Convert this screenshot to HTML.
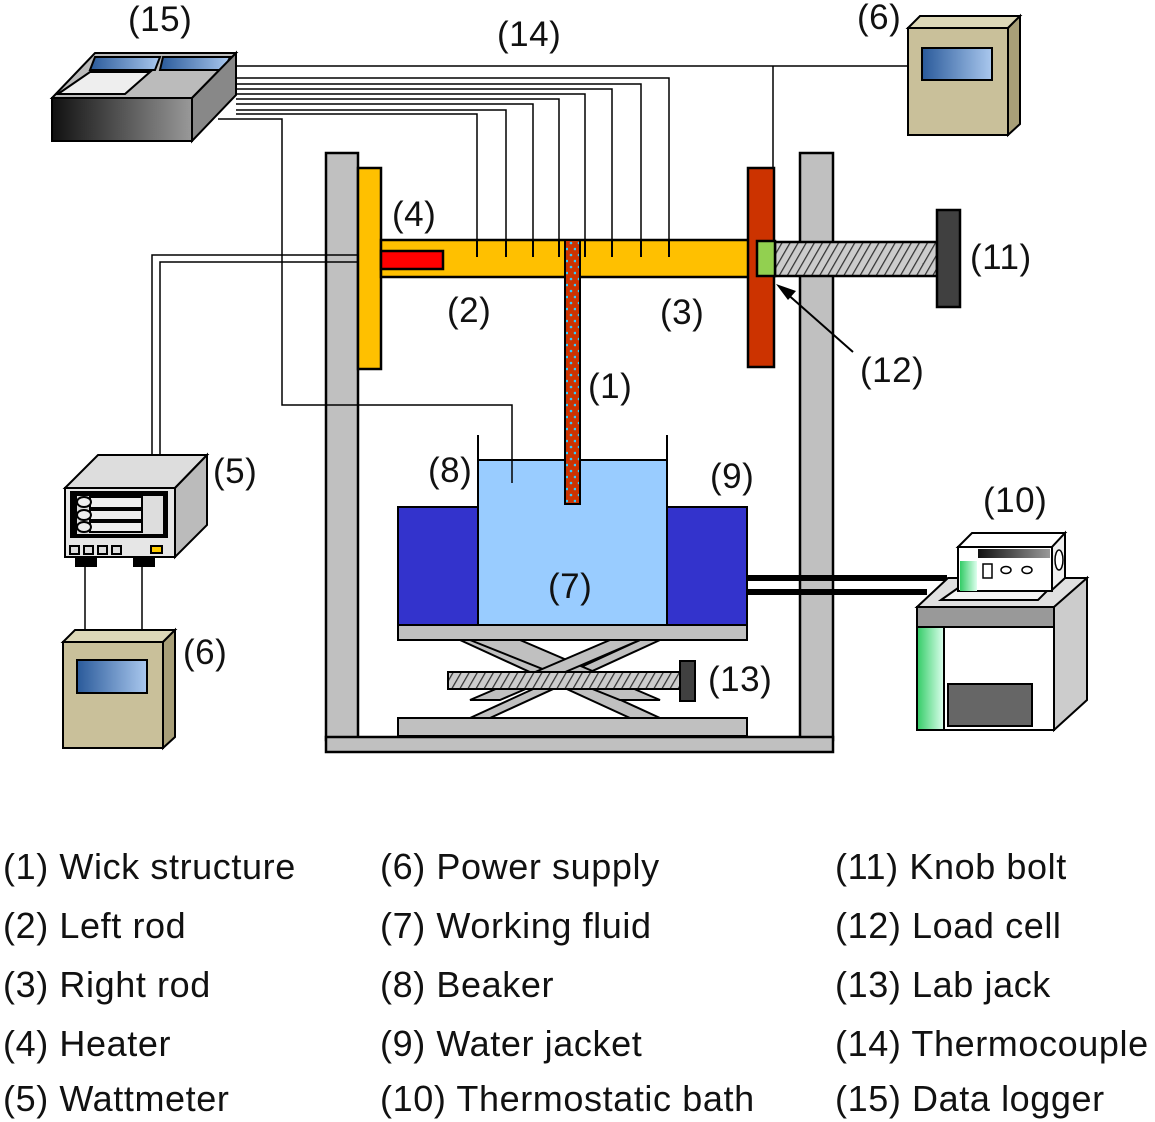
<!DOCTYPE html>
<html><head><meta charset="utf-8"><style>
body{margin:0;background:#fff}
svg{display:block}
text{font-family:"Liberation Sans",sans-serif;fill:#111}
</style></head><body>
<svg width="1155" height="1122" viewBox="0 0 1155 1122" xmlns="http://www.w3.org/2000/svg">
<defs>
<linearGradient id="dk" x1="0" x2="1"><stop offset="0" stop-color="#111"/><stop offset="1" stop-color="#999"/></linearGradient>
<linearGradient id="gr" x1="0" x2="1"><stop offset="0" stop-color="#3c6"/><stop offset="1" stop-color="#dfe"/></linearGradient>
<linearGradient id="bl" x1="0" x2="1"><stop offset="0" stop-color="#2a5a9a"/><stop offset="1" stop-color="#aac8ee"/></linearGradient>
<pattern id="hatch" width="7" height="7" patternUnits="userSpaceOnUse" patternTransform="rotate(30)"><rect width="7" height="7" fill="#ccc"/><line x1="0" y1="0" x2="0" y2="7" stroke="#333" stroke-width="2.5"/></pattern>
<pattern id="dots" width="8" height="12" patternUnits="userSpaceOnUse"><rect width="8" height="12" fill="#cc3300"/><circle cx="3" cy="3" r="1.3" fill="#3cf"/><circle cx="7" cy="9" r="1.3" fill="#3cf"/></pattern>
</defs>
<g stroke="#000" stroke-width="2.5" fill="#c0c0c0">
<rect x="326" y="153" width="32" height="587"/>
<rect x="800" y="153" width="33" height="587"/>
<rect x="326" y="737" width="507" height="15"/>
</g>
<g fill="none" stroke="#000" stroke-width="1.5">
<polyline points="236,66 908,66"/>
<polyline points="773,66 773,168"/>
<polyline points="236,78 669,78 669,257"/>
<polyline points="236,84 641,84 641,257"/>
<polyline points="236,89 612,89 612,257"/>
<polyline points="236,94 585,94 585,257"/>
<polyline points="236,99 559,99 559,257"/>
<polyline points="236,104 533,104 533,257"/>
<polyline points="236,110 506,110 506,257"/>
<polyline points="236,114 477,114 477,257"/>
<polyline points="218,119 282,119 282,405 512,405 512,483"/>
<polyline points="385,255 152,255 152,455"/>
<polyline points="385,262 160,262 160,455"/>
<line x1="85" y1="565" x2="85" y2="630"/>
<line x1="142" y1="565" x2="142" y2="630"/>
</g>
<g stroke="#000" stroke-width="2.5">
<rect x="358" y="168" width="23" height="201" fill="#ffc000"/>
<rect x="381" y="240" width="369" height="37" fill="#ffc000"/>
<rect x="381" y="251" width="62" height="18" fill="#f00"/>
<rect x="748" y="168" width="26" height="199" fill="#cc3300"/>
<rect x="775" y="242" width="162" height="34" fill="url(#hatch)"/>
<rect x="757" y="241" width="18" height="35" fill="#92d050"/>
<rect x="937" y="210" width="23" height="97" fill="#404040"/>
</g>
<g stroke="#000" stroke-width="2">
<line x1="477" y1="240" x2="477" y2="257"/><line x1="506" y1="240" x2="506" y2="257"/><line x1="533" y1="240" x2="533" y2="257"/><line x1="559" y1="240" x2="559" y2="257"/><line x1="585" y1="240" x2="585" y2="257"/><line x1="612" y1="240" x2="612" y2="257"/><line x1="641" y1="240" x2="641" y2="257"/><line x1="669" y1="240" x2="669" y2="257"/>
</g>
<line x1="853" y1="352" x2="785" y2="292" stroke="#000" stroke-width="2"/>
<polygon points="776,284 796,291 788,300" fill="#000"/>
<g stroke="#000" stroke-width="2">
<rect x="478" y="460" width="189" height="165" fill="#99ccff"/>
<line x1="478" y1="435" x2="478" y2="460"/><line x1="667" y1="435" x2="667" y2="460"/>
<line x1="512" y1="460" x2="512" y2="483" stroke-width="1.5"/>
<rect x="398" y="507" width="80" height="118" fill="#3333cc"/>
<rect x="667" y="507" width="80" height="118" fill="#3333cc"/>
<rect x="565" y="240" width="15" height="264" fill="url(#dots)"/>
</g>
<rect x="747" y="575" width="200" height="6" fill="#000"/>
<rect x="747" y="589" width="180" height="6" fill="#000"/>
<g stroke="#000" stroke-width="2" fill="#c0c0c0">
<polygon points="460,640 490,640 660,718 630,718"/>
<polygon points="640,640 660,640 490,718 470,718"/>
<polygon points="470,640 520,640 660,700 620,700"/>
<polygon points="640,640 610,640 470,700 500,700"/>
<rect x="398" y="625" width="349" height="15"/>
<rect x="398" y="718" width="349" height="18"/>
<rect x="448" y="672" width="232" height="17" fill="url(#hatch)"/>
<rect x="680" y="661" width="15" height="40" fill="#404040"/>
</g>
<g stroke="#000" stroke-width="2">
<polygon points="52,98 95,53 236,53 192,98" fill="#bbb"/>
<polygon points="58,94 90,72 150,72 125,94" fill="#eee"/>
<polygon points="90,70 95,57 160,57 155,70" fill="url(#bl)"/>
<polygon points="160,70 163,57 230,57 224,70" fill="url(#bl)"/>
<rect x="52" y="98" width="140" height="43" fill="url(#dk)"/>
<polygon points="192,98 236,53 236,95 192,141" fill="#888"/>
</g>
<g stroke="#000" stroke-width="2">
<polygon points="908,28 920,16 1020,16 1008,28" fill="#ddd8b8"/>
<polygon points="1008,28 1020,16 1020,124 1008,135" fill="#a89f78"/>
<rect x="908" y="28" width="100" height="107" fill="#c9c09a"/>
<rect x="922" y="48" width="70" height="32" fill="url(#bl)"/>
</g>
<g stroke="#000" stroke-width="2">
<polygon points="63,642 75,630 175,630 163,642" fill="#ddd8b8"/>
<polygon points="163,642 175,630 175,737 163,748" fill="#a89f78"/>
<rect x="63" y="642" width="100" height="106" fill="#c9c09a"/>
<rect x="77" y="660" width="70" height="33" fill="url(#bl)"/>
</g>
<g stroke="#000" stroke-width="2">
<polygon points="65,488 98,455 207,455 175,488" fill="#ddd"/>
<polygon points="175,488 207,455 207,525 175,557" fill="#bbb"/>
<rect x="65" y="488" width="110" height="69" fill="#e6e6e6"/>
<rect x="71" y="492" width="96" height="45" fill="#000"/>
<rect x="77" y="496" width="86" height="38" fill="#ddd" stroke="none"/>
<rect x="90" y="497" width="52" height="11" fill="#eee"/><rect x="90" y="510" width="52" height="10" fill="#eee"/><rect x="90" y="522" width="52" height="10" fill="#eee"/>
<ellipse cx="84" cy="502" rx="7" ry="5" fill="#eee"/><ellipse cx="84" cy="515" rx="7" ry="5" fill="#eee"/><ellipse cx="84" cy="527" rx="7" ry="5" fill="#eee"/>
<rect x="70" y="546" width="9" height="8" fill="#ddd"/><rect x="84" y="546" width="9" height="8" fill="#ddd"/><rect x="98" y="546" width="9" height="8" fill="#ddd"/><rect x="112" y="546" width="9" height="8" fill="#ddd"/>
<rect x="151" y="546" width="11" height="7" fill="#fc0"/>
<rect x="76" y="557" width="20" height="9" fill="#000"/><rect x="134" y="557" width="20" height="9" fill="#000"/>
</g>
<g stroke="#000" stroke-width="2">
<polygon points="917,607 948,578 1087,578 1058,607" fill="#e0e0e0"/>
<polygon points="941,600 958,588 1050,588 1038,600" fill="#f4f4f4"/>
<rect x="917" y="607" width="137" height="20" fill="#999"/>
<polygon points="1054,627 1054,607 1087,578 1087,700 1054,730" fill="#ccc"/>
<rect x="917" y="627" width="137" height="103" fill="#fff"/>
<rect x="917" y="627" width="27" height="103" fill="url(#gr)"/>
<rect x="948" y="684" width="84" height="42" fill="#666"/>
<polygon points="958,547 972,533 1065,533 1052,547" fill="#fff"/>
<polygon points="1052,547 1065,533 1065,578 1052,590" fill="#eee"/>
<rect x="958" y="547" width="94" height="44" fill="#fff"/>
<rect x="960" y="561" width="17" height="30" fill="url(#gr)" stroke="none"/>
<rect x="978" y="549" width="72" height="9" fill="url(#dk)" stroke="none"/>
<rect x="983" y="564" width="9" height="14" fill="#fff" stroke-width="1.5"/>
<ellipse cx="1006" cy="570" rx="5" ry="3.5" fill="#fff" stroke-width="1.5"/>
<ellipse cx="1027" cy="570" rx="5" ry="3.5" fill="#fff" stroke-width="1.5"/>
<ellipse cx="1059" cy="560" rx="4" ry="10" fill="#fff" stroke-width="1.5"/>
</g>
<g font-size="35" letter-spacing="0.5">
<text x="128" y="31">(15)</text>
<text x="497" y="46">(14)</text>
<text x="857" y="29">(6)</text>
<text x="392" y="226">(4)</text>
<text x="970" y="269">(11)</text>
<text x="447" y="322">(2)</text>
<text x="660" y="324">(3)</text>
<text x="860" y="382">(12)</text>
<text x="588" y="398">(1)</text>
<text x="213" y="483">(5)</text>
<text x="428" y="482">(8)</text>
<text x="710" y="488">(9)</text>
<text x="983" y="512">(10)</text>
<text x="548" y="598">(7)</text>
<text x="183" y="664">(6)</text>
<text x="708" y="691">(13)</text>
</g>
<g font-size="36" letter-spacing="0.6">
<text x="3" y="879">(1) Wick structure</text>
<text x="3" y="938">(2) Left rod</text>
<text x="3" y="997">(3) Right rod</text>
<text x="3" y="1056">(4) Heater</text>
<text x="3" y="1111">(5) Wattmeter</text>
<text x="380" y="879">(6) Power supply</text>
<text x="380" y="938">(7) Working fluid</text>
<text x="380" y="997">(8) Beaker</text>
<text x="380" y="1056">(9) Water jacket</text>
<text x="380" y="1111">(10) Thermostatic bath</text>
<text x="835" y="879">(11) Knob bolt</text>
<text x="835" y="938">(12) Load cell</text>
<text x="835" y="997">(13) Lab jack</text>
<text x="835" y="1056">(14) Thermocouple</text>
<text x="835" y="1111">(15) Data logger</text>
</g>
</svg>
</body></html>
